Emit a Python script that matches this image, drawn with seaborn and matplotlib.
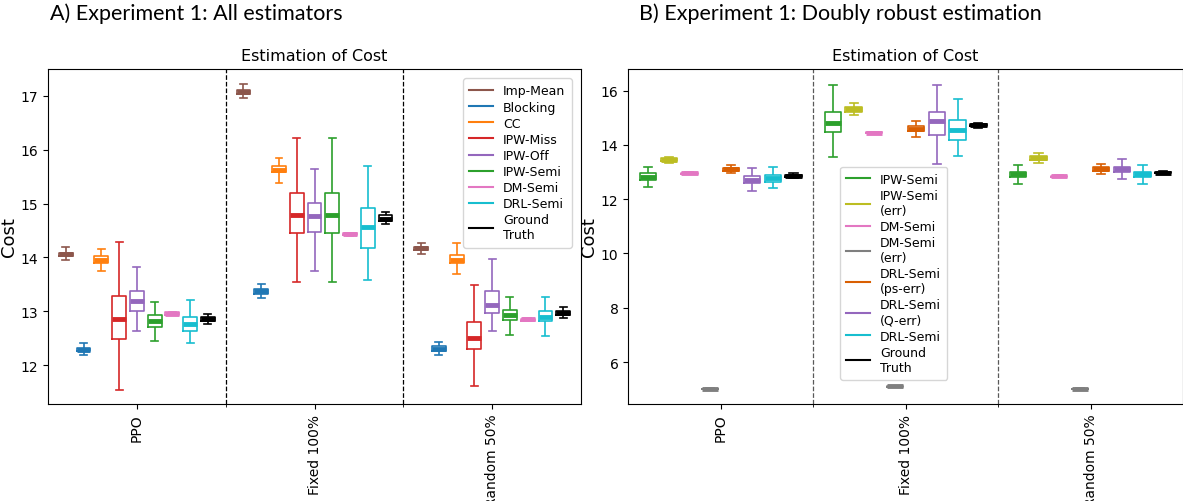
import numpy as np
import pandas as pd
import seaborn as sns
import matplotlib.pyplot as plt
from matplotlib.lines import Line2D

policies = ['PPO', 'Fixed 100%', 'Random 50%']

# panel A: five-number summaries [min, q1, median, q3, max] per policy
est_a = ['Imp-Mean', 'Blocking', 'CC', 'IPW-Miss', 'IPW-Off', 'IPW-Semi',
         'DM-Semi', 'DRL-Semi', 'Ground\nTruth']
colors_a = ['#8c564b', '#1f77b4', '#ff7f0e', '#d62728', '#9467bd', '#2ca02c',
            '#e377c2', '#17becf', 'black']
a_imp_mean = [[13.96, 14.02, 14.06, 14.09, 14.19], [16.95, 17.03, 17.07, 17.11, 17.21], [14.07, 14.13, 14.17, 14.20, 14.27]]
a_blocking = [[12.19, 12.26, 12.29, 12.33, 12.41], [13.24, 13.33, 13.37, 13.41, 13.50], [12.19, 12.27, 12.31, 12.35, 12.43]]
a_cc = [[13.74, 13.89, 13.96, 14.02, 14.16], [15.39, 15.58, 15.63, 15.69, 15.85], [13.69, 13.89, 13.96, 14.05, 14.27]]
a_ipw_miss = [[11.55, 12.48, 12.86, 13.29, 14.29], [13.55, 14.46, 14.79, 15.19, 16.21], [11.62, 12.30, 12.51, 12.80, 13.49]]
a_ipw_off = [[12.64, 13.01, 13.20, 13.37, 13.82], [13.75, 14.48, 14.77, 15.01, 15.64], [12.63, 12.97, 13.12, 13.38, 13.98]]
a_ipw_semi = [[12.45, 12.71, 12.82, 12.94, 13.18], [13.55, 14.46, 14.79, 15.19, 16.21], [12.56, 12.84, 12.94, 13.03, 13.27]]
a_dm_semi = [[12.93, 12.94, 12.96, 12.98, 12.99], [14.40, 14.41, 14.43, 14.45, 14.46], [12.82, 12.83, 12.85, 12.86, 12.87]]
a_drl_semi = [[12.41, 12.63, 12.77, 12.89, 13.21], [13.58, 14.18, 14.56, 14.92, 15.69], [12.54, 12.82, 12.90, 13.01, 13.26]]
a_truth = [[12.77, 12.83, 12.86, 12.90, 12.96], [14.63, 14.68, 14.72, 14.78, 14.84], [12.87, 12.93, 12.97, 13.01, 13.08]]
vals_a = [a_imp_mean, a_blocking, a_cc, a_ipw_miss, a_ipw_off, a_ipw_semi,
          a_dm_semi, a_drl_semi, a_truth]

# panel B
est_b = ['IPW-Semi', 'IPW-Semi\n(err)', 'DM-Semi', 'DM-Semi\n(err)',
         'DRL-Semi\n(ps-err)', 'DRL-Semi\n(Q-err)', 'DRL-Semi', 'Ground\nTruth']
colors_b = ['#2ca02c', '#bcbd22', '#e377c2', '#7f7f7f', '#d95f02', '#9467bd',
            '#17becf', 'black']
b_ipw_semi = [[12.45, 12.70, 12.80, 12.95, 13.17], [13.54, 14.47, 14.80, 15.20, 16.22], [12.56, 12.80, 12.92, 13.00, 13.27]]
b_ipw_err = [[13.33, 13.40, 13.45, 13.50, 13.55], [15.08, 15.22, 15.31, 15.40, 15.55], [13.32, 13.45, 13.52, 13.60, 13.71]]
b_dm_semi = [[12.92, 12.94, 12.96, 12.98, 13.00], [14.41, 14.42, 14.44, 14.46, 14.47], [12.81, 12.82, 12.84, 12.86, 12.87]]
b_dm_err = [[4.98, 4.99, 5.01, 5.02, 5.04], [5.07, 5.08, 5.10, 5.11, 5.13], [4.98, 4.99, 5.01, 5.02, 5.04]]
b_drl_ps = [[12.98, 13.05, 13.10, 13.15, 13.25], [14.30, 14.52, 14.60, 14.68, 14.86], [12.94, 13.05, 13.12, 13.18, 13.28]]
b_drl_q = [[12.29, 12.60, 12.72, 12.85, 13.13], [13.29, 14.36, 14.86, 15.19, 16.21], [12.73, 13.00, 13.10, 13.20, 13.46]]
b_drl_semi = [[12.42, 12.63, 12.77, 12.90, 13.20], [13.59, 14.18, 14.56, 14.91, 15.70], [12.55, 12.80, 12.91, 13.00, 13.26]]
b_truth = [[12.78, 12.83, 12.86, 12.90, 12.95], [14.62, 14.68, 14.72, 14.76, 14.82], [12.93, 12.95, 12.98, 13.01, 13.03]]
vals_b = [b_ipw_semi, b_ipw_err, b_dm_semi, b_dm_err, b_drl_ps, b_drl_q,
          b_drl_semi, b_truth]


def long_df(names, vals):
    rows = []
    for name, per_policy in zip(names, vals):
        for pol, five in zip(policies, per_policy):
            for v in five:
                rows.append((pol, name, v))
    return pd.DataFrame(rows, columns=['policy', 'estimator', 'cost'])


def panel(ax, names, colors, vals, ylim, dash_color):
    df = long_df(names, vals)
    sns.boxplot(data=df, x='policy', y='cost', hue='estimator', hue_order=names,
                palette=colors, order=policies, whis=(0, 100), fill=False,
                width=0.9, gap=0.22, showfliers=False, linewidth=1.2,
                medianprops=dict(linewidth=3.5), legend=False, ax=ax)
    for x in [0.5, 1.5]:
        ax.axvline(x, color=dash_color, ls='--', lw=0.9)
    ax.set_xlim(-0.5, 2.5)
    ax.set_ylim(*ylim)
    ax.set_xticks([0.5, 1.5], minor=True)
    ax.tick_params(axis='x', labelrotation=90, labelsize=10)
    ax.set_xlabel('')
    ax.set_ylabel('Cost', fontsize=13, labelpad=2)
    ax.set_title('Estimation of Cost', fontsize=11.5)
    handles = [Line2D([], [], color=c, lw=1.5) for c in colors]
    return handles


fig = plt.figure(figsize=(11.83, 5.02), dpi=100)
ax1 = fig.add_axes([0.0406, 0.193, 0.4505, 0.668])
ax2 = fig.add_axes([0.531, 0.193, 0.469, 0.668])

h1 = panel(ax1, est_a, colors_a, vals_a, (11.28, 17.5), 'black')
ax1.legend(h1, est_a, loc='upper right', fontsize=9, handlelength=1.9,
           labelspacing=0.25, borderpad=0.5, borderaxespad=0.75)

h2 = panel(ax2, est_b, colors_b, vals_b, (4.45, 16.8), '0.35')
ax2.legend(h2, est_b, loc='lower left', bbox_to_anchor=(0.382, 0.072),
           borderaxespad=0, fontsize=9, handlelength=1.9,
           labelspacing=0.25, borderpad=0.5)

fig.text(0.042, 0.993, 'A) Experiment 1: All estimators', fontsize=15.5,
         family=['Lato', 'DejaVu Sans'], va='top')
fig.text(0.540, 0.993, 'B) Experiment 1: Doubly robust estimation', fontsize=15.5,
         family=['Lato', 'DejaVu Sans'], va='top')

fig.savefig('out.png', dpi=100)
